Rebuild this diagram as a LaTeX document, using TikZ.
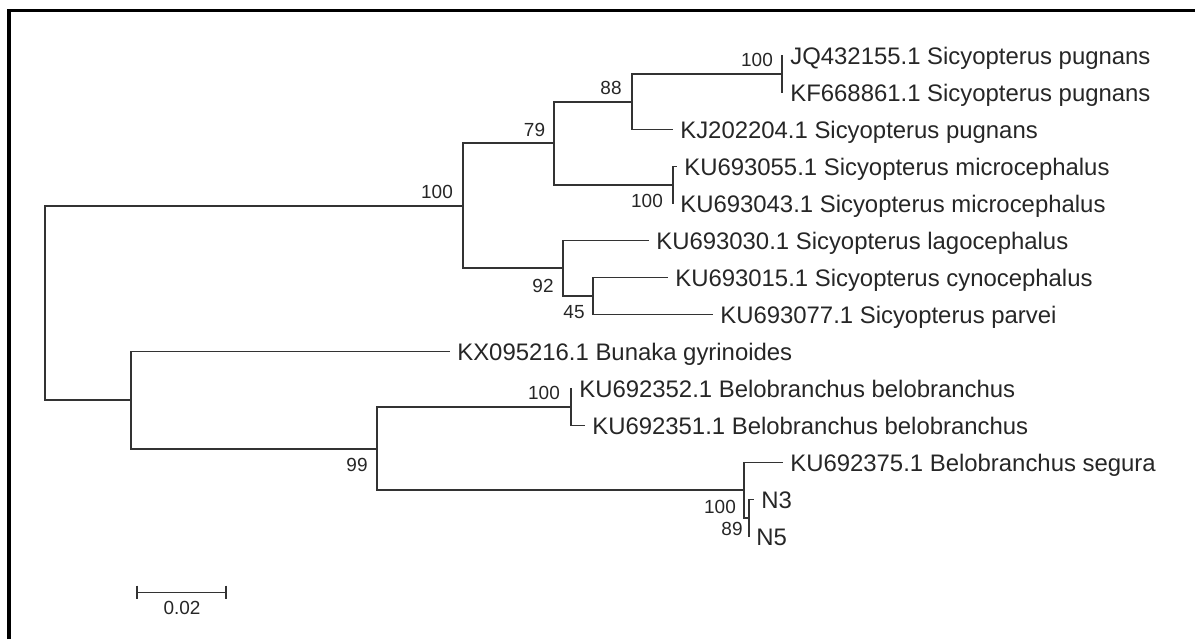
\documentclass[tikz,border=0pt]{standalone}
\usepackage{fontspec}
\setmainfont{Liberation Sans}
\usetikzlibrary{positioning, calc}
\tikzset{
  branch/.style = {draw=black!80, line width=1.3pt},
  taxon/.style  = {font=\fontsize{17}{20}\selectfont, text=black!85, inner sep=0pt,
                   text height=12.2pt, text depth=0pt},
  boot/.style   = {font=\fontsize{13.5}{16}\selectfont, text=black!85, inner sep=0pt},
  frame/.style  = {draw=black, line width=2.6pt},
}

\begin{document}
\begin{tikzpicture}[x=0.025cm, y=-0.025cm]
  \useasboundingbox (0,0) rectangle (1195,639);
  \draw[frame] (8.7,639) -- (8.7,10.5) -- (1195,10.5);

  \coordinate (root)  at (45,302.9);
  \coordinate (sicy)  at (463,205.8);
  \coordinate (pug)   at (554,143.4);
  \coordinate (pugA)  at (632,101.75);
  \coordinate (pugB)  at (782,74);
  \coordinate (micro) at (673,185);
  \coordinate (lago)  at (563,268.25);
  \coordinate (cyno)  at (593,296);
  \coordinate (outg)  at (131,400);
  \coordinate (belo)  at (377,448.6);
  \coordinate (beloA) at (571,407);
  \coordinate (segu)  at (744,490.25);
  \coordinate (nn)    at (749,518);

  \foreach \n/\x/\r/\t in {
      jq/783/1/JQ432155.1 Sicyopterus pugnans,
      kf/783/2/KF668861.1 Sicyopterus pugnans,
      kj/673/3/KJ202204.1 Sicyopterus pugnans,
      kuf/677/4/KU693055.1 Sicyopterus microcephalus,
      kut/673/5/KU693043.1 Sicyopterus microcephalus,
      kul/649/6/KU693030.1 Sicyopterus lagocephalus,
      kuc/668/7/KU693015.1 Sicyopterus cynocephalus,
      kup/713/8/KU693077.1 Sicyopterus parvei,
      kx/450/9/KX095216.1 Bunaka gyrinoides,
      kba/572/10/KU692352.1 Belobranchus belobranchus,
      kbb/585/11/KU692351.1 Belobranchus belobranchus,
      kbs/783/12/KU692375.1 Belobranchus segura,
      nthree/754/13/N3,
      nfive/749/14/N5}
  {
    \coordinate (\n) at (\x,{55.5+37*(\r-1)});
    \node[taxon, right=5pt of \n] (t\n) {\t};
  }

  \draw[branch] (root) |- (sicy);
  \draw[branch] (root) |- (outg);
  \draw[branch] (sicy) |- (pug);
  \draw[branch] (sicy) |- (lago);
  \draw[branch] (pug) |- (pugA);
  \draw[branch] (pug) |- (micro);
  \draw[branch] (pugA) |- (pugB);
  \draw[branch] (pugA) |- (kj);
  \draw[branch] (pugB) |- (jq);
  \draw[branch] (pugB) |- (kf);
  \draw[branch] (micro) |- (kuf);
  \draw[branch] (micro) |- (kut);
  \draw[branch] (lago) |- (kul);
  \draw[branch] (lago) |- (cyno);
  \draw[branch] (cyno) |- (kuc);
  \draw[branch] (cyno) |- (kup);
  \draw[branch] (outg) |- (kx);
  \draw[branch] (outg) |- (belo);
  \draw[branch] (belo) |- (beloA);
  \draw[branch] (belo) |- (segu);
  \draw[branch] (beloA) |- (kba);
  \draw[branch] (beloA) |- (kbb);
  \draw[branch] (segu) |- (kbs);
  \draw[branch] (segu) |- (nn);
  \draw[branch] (nn) |- (nthree);
  \draw[branch] (nn) |- (nfive);

  \node[boot] (bsicy)  at (437,192) {100};
  \node[boot] (bpug)   at (534.5,130) {79};
  \node[boot] (bpugA)  at (611,88) {88};
  \node[boot] (bpugB)  at (757,60) {100};
  \node[boot] (bmicro) at (647,201) {100};
  \node[boot] (blago)  at (543,286) {92};
  \node[boot] (bcyno)  at (574,312) {45};
  \node[boot] (bbelo)  at (357,465) {99};
  \node[boot] (bbeloA) at (544,393) {100};
  \node[boot] (bsegu)  at (720,507) {100};
  \node[boot] (bnn)    at (732,529) {89};

  \coordinate (sbl) at (137,592.5);
  \coordinate (sbr) at (226,592.5);
  \draw[branch] (sbl) -- (sbr);
  \draw[branch] ($(sbl)+(0,-7)$) -- ($(sbl)+(0,6)$);
  \draw[branch] ($(sbr)+(0,-7)$) -- ($(sbr)+(0,6)$);
  \node[boot] (sblab) at (182,608) {0.02};
\end{tikzpicture}
\end{document}
